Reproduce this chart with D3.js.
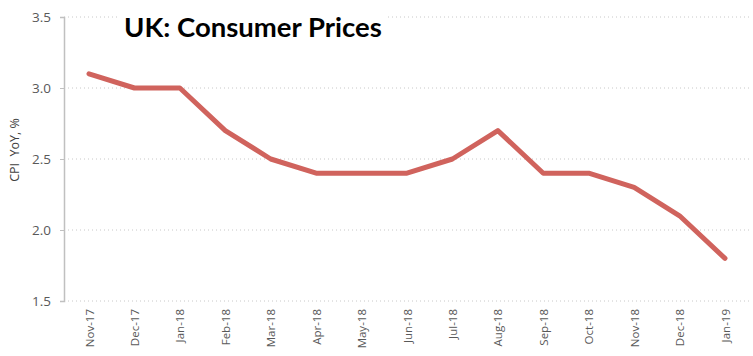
<!DOCTYPE html>
<html><head><meta charset="utf-8">
<script src="https://cdn.jsdelivr.net/npm/d3@7"></script>
<style>body{margin:0;background:#fff;}svg{display:block;}</style>
</head><body>
<svg id="c" width="753" height="356"></svg>
<script>
const categories = ["Nov-17","Dec-17","Jan-18","Feb-18","Mar-18","Apr-18","May-18","Jun-18","Jul-18","Aug-18","Sep-18","Oct-18","Nov-18","Dec-18","Jan-19"];
const cpiValues = [3.1,3.0,3.0,2.7,2.5,2.4,2.4,2.4,2.5,2.7,2.4,2.4,2.3,2.1,1.8];
const yTicks = [1.5,2.0,2.5,3.0,3.5];
const titleText = "UK: Consumer Prices";
const yLabel = "CPI  YoY, %";

const svg = d3.select("#c");
const font = "'Open Sans', 'DejaVu Sans', sans-serif";
const x = d3.scalePoint().domain(categories).range([89, 725]);
const y = d3.scaleLinear().domain([1.5, 3.5]).range([301, 17]);

// gridlines
svg.append("g").selectAll("line").data(yTicks).join("line")
  .attr("x1", 64).attr("x2", 750)
  .attr("y1", d => y(d)).attr("y2", d => y(d))
  .attr("stroke", "#c8c8c8").attr("stroke-width", 1).attr("stroke-dasharray", "1,3");

// y axis
const yAxis = svg.append("g").attr("transform", "translate(64,0)")
  .call(d3.axisLeft(y).tickValues(yTicks).tickFormat(d3.format(".1f")).tickSize(4).tickPadding(9));
yAxis.select(".domain").attr("stroke", "#c0c0c0").attr("stroke-width", 1.5);
yAxis.selectAll(".tick line").attr("stroke", "#c0c0c0");
yAxis.selectAll("text").attr("fill", "#595959").style("font-family", font).style("font-size", "13.5px");

// x axis labels
const xAxis = svg.append("g").attr("transform", "translate(0,301)")
  .call(d3.axisBottom(x).tickSize(0).tickPadding(0));
xAxis.select(".domain").remove();
xAxis.selectAll("text")
  .attr("transform", "rotate(-90)")
  .attr("text-anchor", "end")
  .attr("x", -8).attr("y", 0).attr("dy", "0.35em")
  .attr("fill", "#595959").style("font-family", font).style("font-size", "11.5px");

// y label
svg.append("text").attr("transform", "translate(19,150) rotate(-90)")
  .attr("text-anchor", "middle").attr("fill", "#404040")
  .style("font-family", font).style("font-size", "12.5px").style("white-space", "pre")
  .attr("xml:space", "preserve").text(yLabel);

// line
svg.append("path").datum(cpiValues)
  .attr("fill", "none").attr("stroke", "#d0635d").attr("stroke-width", 5)
  .attr("stroke-linejoin", "round").attr("stroke-linecap", "round")
  .attr("d", d3.line().x((d, i) => x(categories[i])).y(d => y(d)));

// title with white background
svg.append("rect").attr("x", 118).attr("y", 8).attr("width", 270).attr("height", 34).attr("fill", "#fff");
svg.append("text").attr("x", 124).attr("y", 37)
  .attr("fill", "#000").style("font-family", "Lato, 'Open Sans', sans-serif").style("font-weight", "bold")
  .style("font-size", "27.5px").text(titleText);
</script>
</body></html>
